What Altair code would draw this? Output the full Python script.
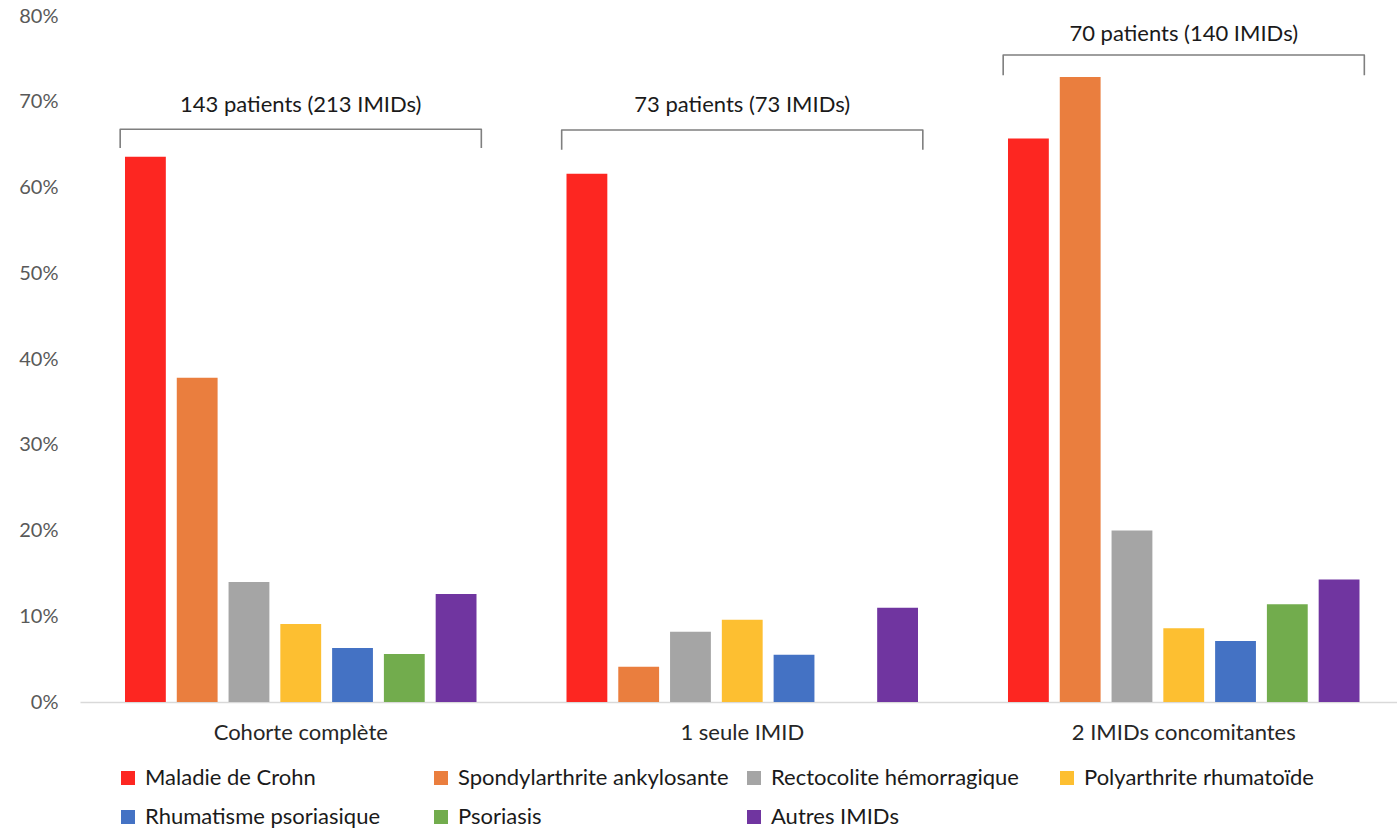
import altair as alt
import pandas as pd

# Categories and series
groups = ["Cohorte complète", "1 seule IMID", "2 IMIDs concomitantes"]
series = [
    "Maladie de Crohn",
    "Spondylarthrite ankylosante",
    "Rectocolite hémorragique",
    "Polyarthrite rhumatoïde",
    "Rhumatisme psoriasique",
    "Psoriasis",
    "Autres IMIDs",
]
colors = ["#FD2621", "#EA7E3E", "#A5A5A5", "#FDBF31", "#4472C4", "#72AC4D", "#7035A0"]

# Percent of patients per IMID, one list per group
cohorte_complete = [63.6, 37.8, 14.0, 9.1, 6.3, 5.6, 12.6]
une_seule_imid = [61.6, 4.1, 8.2, 9.6, 5.5, 0.0, 11.0]
deux_imids = [65.7, 72.9, 20.0, 8.6, 7.1, 11.4, 14.3]

# Bracket annotations above each group
bracket_labels = ["143 patients (213 IMIDs)", "73 patients (73 IMIDs)", "70 patients (140 IMIDs)"]
bracket_top = [66.8, 66.7, 75.45]
bracket_bottom = [64.6, 64.4, 73.1]
bracket_text_y = [69.6, 69.6, 77.9]

y_ticks = [0, 10, 20, 30, 40, 50, 60, 70, 80]

FONT = "Lato"
W, H = 1317, 686
X_RANGE = [0, 1324.5]

rows = []
for g, vals in zip(groups, [cohorte_complete, une_seule_imid, deux_imids]):
    for s, v in zip(series, vals):
        rows.append({"groupe": g, "imid": s, "pct": v})
bars_df = pd.DataFrame(rows)

# Bracket outline: four corner points per group on a 0..3 numeric axis
half = 0.409
br_rows = []
for i, g in enumerate(groups):
    c = i + 0.5
    pts = [(c - half, bracket_bottom[i]), (c - half, bracket_top[i]),
           (c + half, bracket_top[i]), (c + half, bracket_bottom[i])]
    for k, (x, y) in enumerate(pts):
        br_rows.append({"groupe": g, "k": k, "x": x, "y": y})
br_df = pd.DataFrame(br_rows)

lab_df = pd.DataFrame({
    "x": [i + 0.5 for i in range(len(groups))],
    "y": bracket_text_y,
    "label": bracket_labels,
})

y_scale = alt.Scale(domain=[0, 80], nice=False)
y_axis = alt.Axis(values=y_ticks, labelExpr="datum.value + '%'", grid=False,
                  domain=False, ticks=False, labelFontSize=20, labelFont=FONT,
                  labelColor="#595959", labelPadding=22)

bars = alt.Chart(bars_df).mark_bar().encode(
    x=alt.X("groupe:N", sort=groups, title=None,
            scale=alt.Scale(paddingInner=0, paddingOuter=0, range=X_RANGE),
            axis=alt.Axis(labelAngle=0, ticks=False, domainColor="#D9D9D9",
                          domainWidth=1.5, labelFontSize=22, labelFont=FONT,
                          labelColor="#262626", labelPadding=20, labelLimit=600)),
    xOffset=alt.XOffset("imid:N", sort=series,
                        scale=alt.Scale(paddingInner=0.2115, paddingOuter=0.869)),
    y=alt.Y("pct:Q", scale=y_scale, title=None, axis=y_axis),
    color=alt.Color("imid:N", sort=series,
                    scale=alt.Scale(domain=series, range=colors),
                    legend=alt.Legend(orient="none", legendX=37, legendY=751, columns=4,
                                      direction="horizontal",
                                      title=None, symbolType="square", symbolSize=196,
                                      symbolStrokeWidth=0, labelFontSize=22, labelFont=FONT,
                                      labelColor="#1a1a1a", columnPadding=14, rowPadding=17,
                                      gridAlign="all", padding=0, labelOffset=6,
                                      labelLimit=500)),
)

x_q = alt.X("x:Q", scale=alt.Scale(domain=[0, 3], nice=False, zero=False, range=X_RANGE),
            axis=None)
y_q = alt.Y("y:Q", scale=y_scale, title=None, axis=y_axis)

brackets = alt.Chart(br_df).mark_line(color="#7F7F7F", strokeWidth=1.6,
                                      strokeJoin="round").encode(
    x=x_q, y=y_q, detail="groupe:N", order="k:Q")

labels = alt.Chart(lab_df).mark_text(fontSize=22, font=FONT, color="#1a1a1a",
                                     baseline="middle", align="center").encode(
    x=x_q, y=y_q, text="label:N")

chart = alt.layer(bars, brackets, labels).resolve_scale(
    x="independent"
).properties(
    width=W, height=H,
    padding={"left": 80, "top": 16, "right": 0, "bottom": 127},
    autosize=alt.AutoSizeParams(type="none"),
    background="white",
).configure_view(stroke=None)

chart.save("out.html", embed_options={"renderer": "svg", "actions": False})
